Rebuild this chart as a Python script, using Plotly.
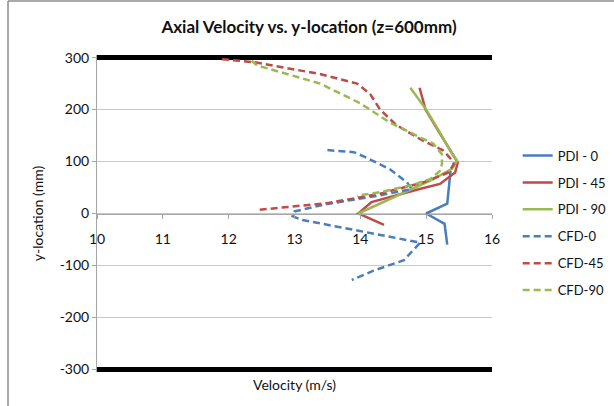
import plotly.graph_objects as go

# ---- measured profiles at z = 600 mm ----
pdi0_v = [15.37, 15.32, 15.00, 15.28, 15.32]
pdi0_y = [82, 19, 0, -20, -60]

pdi45_v = [14.90, 14.99, 15.18, 15.37, 15.48, 15.44, 15.21, 14.90, 14.17, 13.97, 14.36]
pdi45_y = [242, 200, 160, 121, 98, 79, 57, 47, 22, 0, -22]

pdi90_v = [14.76, 15.00, 15.19, 15.37, 15.47, 15.39, 15.11, 13.97]
pdi90_y = [242, 200, 160, 120, 101, 86, 66, 0]

# ---- CFD profiles ----
cfd0_v = [13.50, 13.90, 14.05, 14.45, 14.71, 14.78, 14.30, 13.44, 13.00, 12.97,
          13.10, 14.91, 14.66, 14.20, 13.87]
cfd0_y = [122, 118, 110, 85, 60, 47, 35, 17, 4, -5, -12, -56, -90, -110, -128]

cfd45_v = [11.90, 12.40, 13.40, 13.95, 14.15, 14.30, 14.55, 14.91, 15.26, 15.39,
           15.42, 15.34, 15.16, 14.96, 14.30, 13.50, 12.45]
cfd45_y = [297, 291, 268, 250, 230, 200, 170, 143, 121, 103, 95, 79, 70, 60, 38, 20, 7]

cfd90_v = [12.35, 12.43, 13.39, 14.00, 14.45, 14.71, 15.11, 15.24, 15.24, 15.21,
           15.06, 14.76, 14.30, 13.95]
cfd90_y = [294, 285, 250, 212, 175, 159, 134, 114, 95, 82, 66, 54, 41, 34]

# duct walls
wall_y = [300, -300]
wall_v = [10, 16]

x_ticks = [10, 11, 12, 13, 14, 15, 16]
y_ticks = [-300, -200, -100, 0, 100, 200, 300]

BLUE = "#4A7EBB"
RED = "#BE4B48"
GREEN = "#98B954"

series = [
    ("PDI - 0", pdi0_v, pdi0_y, BLUE, "solid"),
    ("PDI - 45", pdi45_v, pdi45_y, RED, "solid"),
    ("PDI - 90", pdi90_v, pdi90_y, GREEN, "solid"),
    ("CFD-0", cfd0_v, cfd0_y, BLUE, "dash"),
    ("CFD-45", cfd45_v, cfd45_y, RED, "dash"),
    ("CFD-90", cfd90_v, cfd90_y, GREEN, "dash"),
]

fig = go.Figure()

for wy in wall_y:
    fig.add_trace(go.Scatter(
        x=wall_v, y=[wy, wy], mode="lines",
        line=dict(color="black", width=5),
        showlegend=False, hoverinfo="skip",
    ))

for name, v, y, color, dash in series:
    fig.add_trace(go.Scatter(
        x=v, y=y, mode="lines", name=name, legendgroup=name,
        line=dict(color=color, width=2.5, dash="solid" if dash == "solid" else "7px,4px"),
    ))

FONT = "Lato, 'Open Sans', sans-serif"

fig.update_layout(
    width=614, height=406,
    margin=dict(l=97, r=122, t=55, b=34, autoexpand=False),
    paper_bgcolor="white", plot_bgcolor="white",
    font=dict(family=FONT, size=13, color="#111"),
    title=dict(
        text="<b>Axial Velocity vs. y-location (z=600mm)</b>",
        x=309 / 614, xref="container", xanchor="center",
        y=(406 - 27) / 406, yref="container", yanchor="middle",
        font=dict(family=FONT, size=17, color="#111"),
    ),
    showlegend=True,
    legend=dict(
        x=1.065, xanchor="left", y=0.73, yanchor="top",
        font=dict(family=FONT, size=13, color="#111"),
        tracegroupgap=7, bgcolor="rgba(0,0,0,0)",
    ),
    xaxis=dict(
        range=[10, 16], tickvals=x_ticks, ticktext=[str(t) for t in x_ticks],
        anchor="free", position=0.5,
        showline=True, linecolor="#A6A6A6", linewidth=1,
        ticks="outside", ticklen=4, tickcolor="#A6A6A6",
        ticklabelstandoff=9,
        showgrid=False, zeroline=False,
        tickfont=dict(family=FONT, size=14, color="#111"),
    ),
    yaxis=dict(
        range=[-305, 305], tickvals=y_ticks, ticktext=[str(t) for t in y_ticks],
        showline=True, linecolor="#A6A6A6", linewidth=1,
        ticks="outside", ticklen=4, tickcolor="#A6A6A6",
        showgrid=True, gridcolor="#C8C8C8", gridwidth=1, zeroline=False,
        tickfont=dict(family=FONT, size=14, color="#111"),
        title=dict(text="y-location (mm)", standoff=12,
                   font=dict(family=FONT, size=14, color="#111")),
    ),
    annotations=[dict(
        text="Velocity (m/s)", x=0.5, xref="paper", y=-0.04, yref="paper",
        xanchor="center", yanchor="middle", showarrow=False,
        font=dict(family=FONT, size=14, color="#111"),
    )],
    shapes=[
        dict(type="line", xref="paper", yref="paper",
             x0=-0.2253, x1=1.5, y0=1.17, y1=1.17,
             line=dict(color="#8C8C8C", width=1.5)),
        dict(type="line", xref="paper", yref="paper",
             x0=-0.2253, x1=-0.2253, y0=1.17, y1=-0.3,
             line=dict(color="#8C8C8C", width=1.5)),
    ],
)

fig.write_html("out.html")
